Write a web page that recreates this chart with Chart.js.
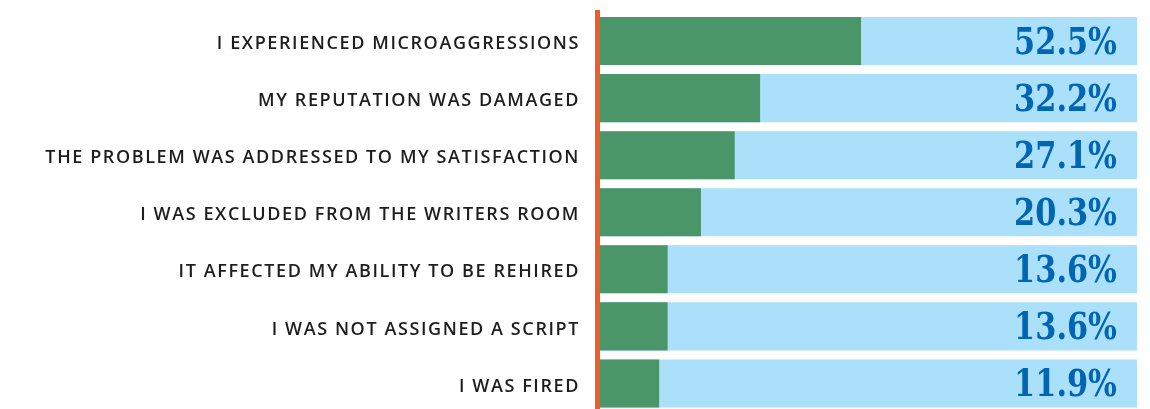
<!DOCTYPE html>
<html lang="en">
<head>
    <meta charset="UTF-8">
    <title>Consequences Chart</title>
    <script src="https://cdn.jsdelivr.net/npm/chart.js"></script>
    <style>
        html, body { margin: 0; padding: 0; background: #fff; overflow: hidden; }
        #chart-container { position: relative; width: 1150px; height: 412px; }
    </style>
</head>
<body>

    <div id="chart-container">
        <canvas id="consequenceChart"></canvas>
    </div>

    <script>
        const categories = [
            'I EXPERIENCED MICROAGGRESSIONS',
            'MY REPUTATION WAS DAMAGED',
            'THE PROBLEM WAS ADDRESSED TO MY SATISFACTION',
            'I WAS EXCLUDED FROM THE WRITERS ROOM',
            'IT AFFECTED MY ABILITY TO BE REHIRED',
            'I WAS NOT ASSIGNED A SCRIPT',
            'I WAS FIRED'
        ];
        const percentages = [52.5, 32.2, 27.1, 20.3, 13.6, 13.6, 11.9];
        const axisMax = 108;
        const fullBars = categories.map(() => axisMax);

        // spaced-out caps for the row labels
        const letterSpace = {
            id: 'letterSpace',
            beforeDraw(chart) { chart.ctx.letterSpacing = '1.6px'; },
            beforeDatasetsDraw(chart) { chart.ctx.letterSpacing = '0px'; }
        };

        // red rule on the left of the bars
        const ruleLine = {
            id: 'ruleLine',
            afterDatasetsDraw(chart) {
                const ctx = chart.ctx;
                const area = chart.chartArea;
                ctx.save();
                ctx.fillStyle = '#f15a29';
                ctx.fillRect(area.left - 5, 10, 5, chart.height - 10);
                ctx.restore();
            }
        };

        // big percentage numbers at the right end of each row
        const valueLabels = {
            id: 'valueLabels',
            afterDatasetsDraw(chart) {
                const ctx = chart.ctx;
                const meta = chart.getDatasetMeta(1);
                const right = chart.chartArea.right - 20;
                ctx.save();
                ctx.letterSpacing = '0px';
                ctx.fillStyle = '#0065b3';
                ctx.font = 'bold 38px "DejaVu Serif"';
                ctx.textAlign = 'right';
                ctx.textBaseline = 'alphabetic';
                meta.data.forEach((bar, i) => {
                    const txt = percentages[i].toFixed(1) + '%';
                    ctx.save();
                    ctx.translate(right, bar.y + 13);
                    ctx.scale(0.8, 1);
                    ctx.fillText(txt, 0, 0);
                    ctx.restore();
                });
                ctx.restore();
            }
        };

        const ctx = document.getElementById('consequenceChart').getContext('2d');
        new Chart(ctx, {
            type: 'bar',
            data: {
                labels: categories,
                datasets: [{
                    label: 'Total',
                    data: fullBars,
                    backgroundColor: '#abe0fa',
                    grouped: false,
                    order: 2,
                    barPercentage: 1,
                    categoryPercentage: 48 / 57
                }, {
                    label: 'Share',
                    data: percentages,
                    backgroundColor: '#4a9668',
                    grouped: false,
                    order: 1,
                    barPercentage: 1,
                    categoryPercentage: 48 / 57
                }]
            },
            options: {
                indexAxis: 'y',
                responsive: true,
                maintainAspectRatio: false,
                animation: false,
                layout: {
                    padding: { top: 12.5, right: 13, bottom: 0, left: 0 }
                },
                plugins: {
                    legend: { display: false },
                    tooltip: { enabled: false }
                },
                scales: {
                    x: {
                        display: false,
                        min: 0,
                        max: axisMax
                    },
                    y: {
                        grid: { display: false, drawTicks: false },
                        border: { display: false },
                        ticks: {
                            color: '#1d1d1d',
                            padding: 20,
                            labelOffset: 3,
                            font: { family: '"Open Sans"', size: 18, weight: '600' }
                        },
                        afterFit(scale) {
                            scale.width = 600;
                            scale.paddingTop = 0;
                            scale.paddingBottom = 0;
                        }
                    }
                }
            },
            plugins: [letterSpace, ruleLine, valueLabels]
        });
    </script>

</body>
</html>
